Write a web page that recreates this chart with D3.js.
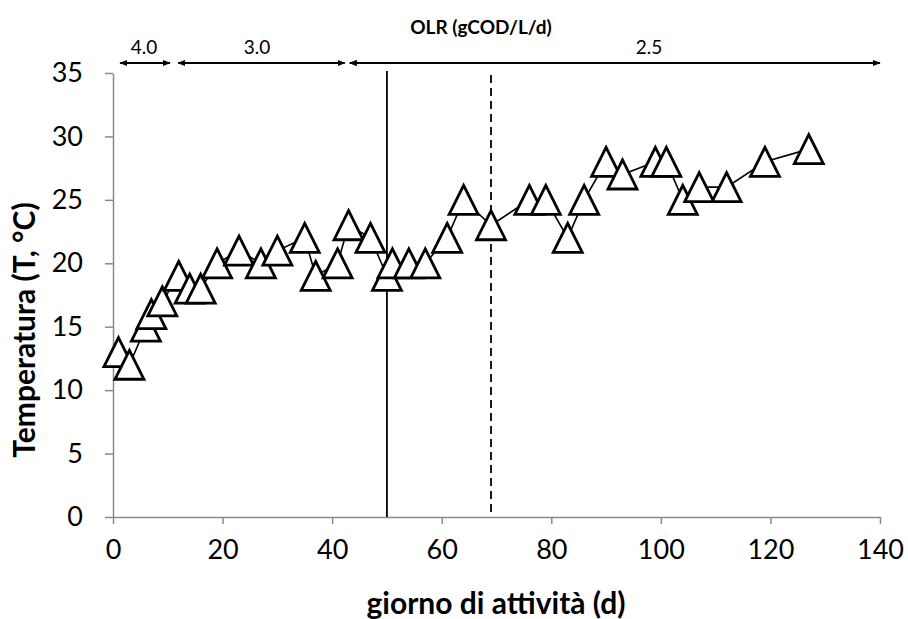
<!DOCTYPE html>
<html>
<head>
<meta charset="utf-8">
<script src="https://cdn.jsdelivr.net/npm/d3@7"></script>
<style>
html,body{margin:0;padding:0;background:#fff;}
svg{display:block;}
text{font-family:Lato,"Open Sans",sans-serif;fill:#000;}
</style>
</head>
<body>
<svg id="chart" width="908" height="619"></svg>
<script>
const days = [1,3,6,7,9,12,14,16,19,23,27,30,35,37,41,43,47,50,51,54,57,61,64,69,76,79,83,86,90,93,99,101,104,107,112,119,127];
const temps = [13,12,15,16,17,19,18,18,20,21,20,21,22,19,20,23,22,19,20,20,20,22,25,23,25,25,22,25,28,27,28,28,25,26,26,28,29];
const xTicks = [0,20,40,60,80,100,120,140];
const yTicks = [0,5,10,15,20,25,30,35];
const olrLabels = ["4.0","3.0","2.5"];
const olrStart = [1.3,11.9,43.2];
const olrEnd = [10.4,42.3,140];
const solidLineDay = 50;
const dashedLineDay = 69;

const svg = d3.select("#chart");
const x = d3.scaleLinear().domain([0,140]).range([113,880]);
const y = d3.scaleLinear().domain([0,35]).range([517,73]);
const axisColor = "#8a8a8a";

// axes
const xAxis = svg.append("g").attr("transform",`translate(0,${y(0)})`)
  .call(d3.axisBottom(x).tickValues(xTicks).tickSize(7).tickSizeOuter(0).tickPadding(16));
const yAxis = svg.append("g").attr("transform",`translate(${x(0)},0)`)
  .call(d3.axisLeft(y).tickValues(yTicks).tickSize(8).tickSizeOuter(0).tickPadding(22));
[xAxis,yAxis].forEach(a=>{
  a.select(".domain").attr("stroke",axisColor).attr("stroke-width",1.5);
  a.selectAll(".tick line").attr("stroke",axisColor).attr("stroke-width",1.5);
  a.selectAll(".tick text").attr("font-size",27).attr("font-family","Lato,sans-serif").attr("fill","#000");
});

// vertical reference lines
svg.append("line").attr("x1",x(solidLineDay)).attr("x2",x(solidLineDay))
  .attr("y1",71).attr("y2",y(0)).attr("stroke","#000").attr("stroke-width",1.8);
svg.append("line").attr("x1",x(dashedLineDay)).attr("x2",x(dashedLineDay))
  .attr("y1",75).attr("y2",y(0)).attr("stroke","#000").attr("stroke-width",1.8)
  .attr("stroke-dasharray","8,5");

// OLR arrows
const defs = svg.append("defs");
defs.append("marker").attr("id","ah").attr("viewBox","0 0 10 10").attr("refX",9).attr("refY",5)
  .attr("markerWidth",4).attr("markerHeight",4).attr("orient","auto-start-reverse")
  .append("path").attr("d","M0,1 L10,5 L0,9 Z").attr("fill","#000");
const arrowY = 63;
olrLabels.forEach((lab,i)=>{
  svg.append("line").attr("x1",x(olrStart[i])).attr("x2",x(olrEnd[i]))
    .attr("y1",arrowY).attr("y2",arrowY).attr("stroke","#000").attr("stroke-width",2)
    .attr("marker-start","url(#ah)").attr("marker-end","url(#ah)");
});
const labX = [144,257,649];
olrLabels.forEach((lab,i)=>{
  svg.append("text").attr("x",labX[i]).attr("y",54).attr("text-anchor","middle")
    .attr("font-size",19).text(lab);
});
svg.append("text").attr("x",481).attr("y",34).attr("text-anchor","middle")
  .attr("font-size",19).attr("font-weight","bold").text("OLR (gCOD/L/d)");

// series line
const pts = days.map((d,i)=>[d,temps[i]]);
svg.append("path").datum(pts)
  .attr("d",d3.line().x(d=>x(d[0])).y(d=>y(d[1])))
  .attr("fill","none").attr("stroke","#000").attr("stroke-width",1.6);

// triangle markers
const w = 29, h = 29;
svg.append("g").selectAll("path").data(pts).join("path")
  .attr("transform",d=>`translate(${x(d[0])},${y(d[1])})`)
  .attr("d",`M0,${-h/2} L${w/2},${h/2} L${-w/2},${h/2} Z`)
  .attr("fill","#fff").attr("stroke","#000").attr("stroke-width",2.8).attr("stroke-linejoin","miter");

// axis titles
svg.append("text").attr("x",496).attr("y",614).attr("text-anchor","middle")
  .attr("font-size",30).attr("font-weight","bold").text("giorno di attività (d)");
svg.append("text").attr("transform","translate(35,330) rotate(-90)").attr("text-anchor","middle")
  .attr("font-size",30).attr("font-weight","bold").text("Temperatura (T, °C)");
</script>
</body>
</html>
